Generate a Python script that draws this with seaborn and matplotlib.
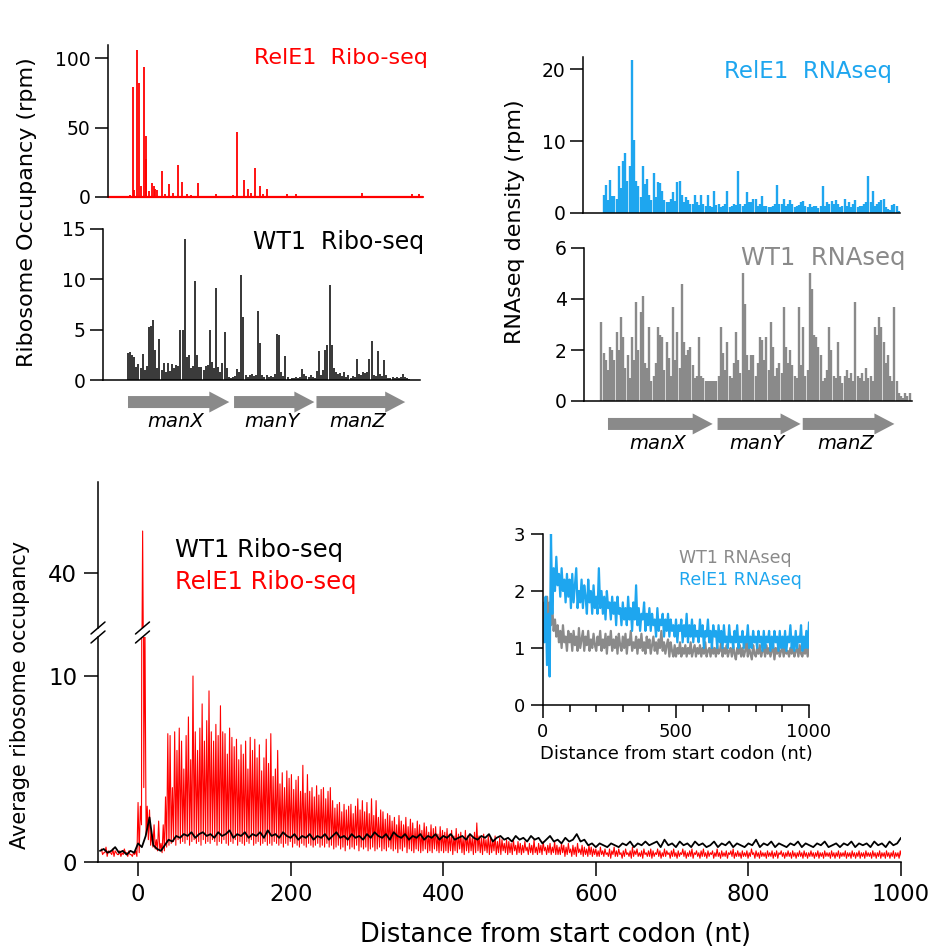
import numpy as np
import pandas as pd
import matplotlib
matplotlib.use("Agg")
import matplotlib.pyplot as plt
from matplotlib.lines import Line2D
import seaborn as sns

# ---------------- data ----------------
# top-left: RelE1 Ribo-seq, sparse spikes (position in nt along manXYZ, rpm)
relE_ribo_pos = [20, 45, 60, 89, 105, 120, 152, 168, 175, 200,
                 225, 250, 262, 280, 324, 350, 394, 430, 473, 514,
                 560, 600, 667, 720, 838, 900, 1000, 1041, 1108, 1140,
                 1170, 1213, 1254, 1290, 1324, 1400, 1517, 1600, 1700, 1900,
                 2100, 2232, 2400, 2530, 2600, 2708, 2775]
relE_ribo_rpm = [1.5, 79, 5, 106, 82, 8, 93.5, 44, 27, 4,
                 10, 8, 6, 5, 18.7, 2, 9.5, 3, 23, 11,
                 2, 1.5, 10, 1, 2, 1, 1.5, 47, 12, 6,
                 3, 21, 8, 2, 5.5, 1, 2, 2.5, 1, 1,
                 1, 3, 1, 1, 1, 2.5, 2]

# top-left: WT1 Ribo-seq, 20-nt bins starting at nt 0
wt_ribo_start, wt_ribo_step = 0, 20
wt_ribo_rpm = [2.7, 2.8, 2.5, 2.3, 1.3, 1.6, 1.2, 2.6, 1.0, 1.4,
               5.3, 5.4, 6.0, 3.0, 1.2, 4.1, 1.0, 1.7, 0.8, 1.7,
               0.9, 1.6, 1.2, 1.5, 1.4, 5.0, 5.0, 14.0, 2.3, 2.5,
               1.2, 1.4, 9.8, 2.5, 1.3, 1.3, 1.0, 1.4, 1.5, 5.0,
               1.8, 1.2, 9.1, 1.3, 0.8, 1.7, 4.8, 1.2, 0.3, 0.2,
               0.3, 0.4, 1.1, 0.8, 10.4, 6.3, 0.5, 0.3, 0.5, 0.6,
               0.4, 0.5, 6.9, 3.7, 0.5, 0.3, 0.5, 0.3, 0.4, 0.3,
               0.6, 4.6, 4.5, 0.8, 0.4, 2.4, 0.3, 0.1, 0.2, 0.2,
               0.3, 0.2, 0.3, 1.1, 0.6, 0.4, 0.3, 0.5, 0.3, 0.2,
               0.9, 2.9, 0.5, 1.0, 3.0, 3.5, 9.4, 3.5, 1.2, 0.8,
               0.6, 0.7, 0.4, 0.8, 0.3, 0.5, 0.2, 0.4, 0.3, 2.1,
               0.6, 0.5, 0.8, 0.7, 0.8, 2.1, 3.9, 0.5, 0.4, 2.9,
               0.6, 0.4, 2.0, 0.5, 0.2, 0.2, 0.3, 0.2, 0.3, 0.2,
               0.3, 0.6, 0.3, 0.2, 0.1]

# top-right: RelE1 RNAseq, 20-nt bins starting at nt -40
relE_rna_start, relE_rna_step = -40, 20
relE_rna_rpm = [2.5, 3.9, 1.8, 4.6, 2.3, 2.3, 1.9, 6.5, 3.5, 7.2,
                8.3, 4.5, 6.5, 21.3, 10.2, 4.5, 3.7, 2.2, 6.5, 4.0,
                4.7, 2.5, 1.8, 5.6, 2.2, 4.3, 4.2, 3.0, 1.8, 1.5,
                1.5, 2.0, 2.9, 1.6, 4.3, 4.5, 2.5, 1.5, 2.2, 1.8,
                1.2, 1.3, 2.5, 1.5, 1.1, 2.5, 1.2, 1.0, 2.5, 1.0,
                0.8, 3.0, 1.1, 1.2, 0.9, 1.0, 1.3, 3.0, 0.9, 1.0,
                1.3, 1.1, 5.8, 1.3, 1.0, 1.2, 2.9, 1.5, 1.5, 2.0,
                2.0, 1.0, 1.2, 2.3, 1.0, 1.0, 0.8, 0.8, 1.0, 1.2,
                3.9, 1.2, 1.2, 2.0, 1.0, 1.2, 1.8, 1.2, 0.9, 1.0,
                1.1, 1.5, 1.6, 1.0, 0.8, 1.3, 0.8, 1.0, 1.0, 0.7,
                1.0, 3.7, 1.0, 1.5, 1.3, 1.6, 1.2, 1.8, 1.3, 0.8,
                1.0, 2.0, 1.0, 1.5, 0.8, 1.2, 1.8, 0.8, 1.0, 1.0,
                1.2, 1.5, 5.2, 1.5, 3.0, 1.0, 1.2, 1.5, 1.8, 2.0,
                0.8, 0.5, 0.4, 1.1, 1.2, 1.0, 0.3]

# top-right: WT1 RNAseq, 20-nt bins starting at nt -60
wt_rna_start, wt_rna_step = -60, 20
wt_rna_rpm = [3.1, 1.9, 1.6, 1.2, 2.1, 2.0, 1.6, 2.7, 2.0, 3.3,
              2.5, 1.3, 1.8, 0.9, 2.5, 1.6, 3.9, 2.0, 3.5, 4.1,
              1.5, 1.3, 2.9, 0.8, 1.0, 1.5, 2.9, 2.6, 2.5, 1.2,
              2.3, 1.7, 1.0, 3.7, 1.6, 2.7, 1.3, 4.6, 2.3, 1.8,
              2.0, 2.1, 1.4, 0.9, 1.0, 2.5, 1.0, 0.9, 0.8, 0.8,
              0.8, 0.8, 0.8, 0.8, 1.0, 2.9, 1.9, 1.2, 2.3, 1.0,
              0.9, 1.5, 2.7, 1.6, 1.1, 5.0, 3.8, 1.8, 1.2, 1.8,
              1.8, 1.0, 1.5, 2.5, 2.4, 1.6, 2.5, 1.2, 3.1, 2.1,
              1.0, 1.3, 1.5, 1.1, 3.7, 2.1, 1.5, 2.0, 1.4, 1.0,
              0.9, 3.7, 1.4, 2.9, 1.0, 1.2, 5.0, 4.4, 2.6, 2.5,
              2.1, 1.8, 0.8, 0.9, 1.2, 2.9, 2.0, 1.0, 0.9, 2.3,
              1.0, 0.7, 1.0, 1.2, 0.9, 1.1, 0.8, 3.9, 1.0, 0.9,
              1.1, 0.8, 1.3, 0.9, 1.0, 0.8, 2.9, 2.6, 3.3, 2.9,
              2.3, 1.5, 1.8, 1.0, 0.8, 3.7, 0.8, 0.3, 0.2, 0.1,
              0.3, 0.2, 0.3]

# operon annotation (nt)
gene_names = ["manX", "manY", "manZ"]
gene_starts = [0, 1010, 1795]
gene_ends = [965, 1775, 2640]

# bottom: metagene RelE1 Ribo-seq, codon peaks (nt -48, -45, ...) and troughs (nt -46.5, ...)
relE_meta_start = -48
relE_meta_peak = [
    0.7, 0.5, 0.8, 0.6, 0.5, 0.7, 0.6, 0.4, 0.6, 0.5, 0.7, 0.5, 0.6, 0.4, 0.5, 0.6,
    3.2, 3.0, 50.5, 13.0, 3.0, 2.8, 1.5, 2.0, 1.2, 2.2, 1.0, 2.0, 3.5, 6.9,
    6.8, 4.0, 7.0, 6.0, 7.2, 6.5, 5.0, 6.8, 7.8, 5.5, 10.0, 7.0, 6.0, 7.2, 8.5, 6.5, 7.6, 9.2, 7.0, 6.5,
    7.4, 6.8, 8.4, 7.0, 6.9, 5.8, 7.2, 6.7, 6.2, 6.6, 5.5, 6.3, 5.8, 6.5, 5.0, 6.7, 6.0, 6.6, 5.6, 6.3,
    4.9, 5.6, 6.6, 5.3, 6.9, 4.6, 5.0, 6.0, 4.2, 4.8, 4.0, 4.9, 4.5, 4.7, 3.9, 4.4, 4.6, 3.8, 5.2, 3.7,
    4.7, 3.8, 4.0, 3.5, 4.1, 3.6, 3.9, 4.0, 3.4, 3.8, 4.0, 3.3, 2.9, 3.1, 3.2, 2.7, 3.1, 2.8, 3.0, 3.1,
    2.6, 3.0, 3.4, 2.8, 3.3, 2.7, 3.2, 2.6, 3.4, 2.5, 3.3, 2.4, 2.8, 2.7, 2.3, 2.6, 2.5, 2.2, 2.4, 2.0,
    2.5, 2.2, 2.0, 2.4, 1.9, 2.3, 2.1, 1.8, 2.2, 2.0, 1.7, 2.1, 1.9, 1.6, 2.0, 1.8, 1.9, 1.5, 1.9, 1.7,
    1.6, 1.8, 1.5, 1.7, 1.4, 1.8, 1.5, 1.6, 1.3, 1.7, 1.4, 1.5, 1.3, 1.6, 2.1, 1.4, 1.3, 1.5, 1.2, 1.4,
    1.3, 1.2, 1.4, 1.1, 1.3, 1.2, 1.0, 1.2, 1.1, 1.0, 1.2, 0.9, 1.1,
    1.0, 0.9, 1.1, 0.8, 1.0, 0.9, 1.2, 0.8, 1.0, 0.9, 1.1, 0.8, 0.9, 1.0, 0.8, 1.1, 0.9,
    0.8, 1.0, 0.9, 0.8, 1.0, 0.7, 0.9, 0.8, 1.0, 0.7, 0.9, 0.8, 0.7, 0.9, 0.8, 0.7,
    0.7, 0.6, 0.8, 0.6, 0.7, 0.5, 0.7, 0.6, 0.8, 0.6, 0.7, 0.5, 0.6, 0.7, 0.5, 0.6, 0.8, 0.6, 0.7, 0.5,
    0.6, 0.7, 0.5, 0.6, 0.7, 0.6, 0.5, 0.7, 0.6, 0.5, 0.7, 0.6, 0.5, 0.6, 0.7, 0.5, 0.6, 0.5, 0.7, 0.6,
    0.5, 0.6, 0.7, 0.5, 0.6, 0.5, 0.6, 0.7, 0.5, 0.6, 0.5, 0.6, 0.5, 0.7, 0.5, 0.6, 0.5, 0.6, 0.5, 0.6,
    0.7, 0.5, 0.6, 0.5, 0.6, 0.5, 0.6, 0.5, 0.7, 0.5, 0.6, 0.5, 0.6, 0.5, 0.5, 0.6, 0.5, 0.6, 0.5, 0.6,
    0.5, 0.6, 0.5, 0.5, 0.6, 0.5, 0.6, 0.5, 0.5, 0.6, 0.5, 0.6, 0.5, 0.5, 0.6, 0.5, 0.5, 0.6, 0.5, 0.5,
    0.6, 0.5, 0.5, 0.6, 0.5, 0.5, 0.6, 0.5, 0.5, 0.6, 0.5, 0.5, 0.6, 0.5, 0.5, 0.6, 0.5, 0.5, 0.6, 0.5,
    0.5, 0.6, 0.5, 0.5, 0.6, 0.5, 0.5, 0.6, 0.5, 0.5, 0.6, 0.5, 0.5, 0.6]
relE_meta_trough = [
    0.4, 0.5, 0.3, 0.5, 0.4, 0.3, 0.5, 0.4, 0.3, 0.4, 0.5, 0.3, 0.4, 0.3, 0.4, 0.3,
    0.5, 2.0, 4.0, 1.5, 1.2, 0.9, 0.8, 0.7, 0.6, 0.6, 0.5, 0.6, 0.8, 0.9,
    1.0, 1.1, 0.9, 1.2, 1.0, 1.1, 1.0, 1.2, 0.9, 1.1, 1.2, 1.0, 1.1, 0.9, 1.2, 1.0, 1.1, 1.0, 1.2, 1.1,
    0.9, 1.1, 1.0, 1.2, 1.0, 0.9, 1.1, 1.0, 1.2, 0.9, 1.1, 1.0, 0.9, 1.1, 1.0, 1.2, 0.9, 1.0, 1.1, 0.9,
    1.0, 1.1, 0.9, 1.0, 0.9, 1.1, 1.0, 0.9, 1.0, 0.8, 1.0, 0.9, 1.1, 0.8, 1.0, 0.9, 0.8, 1.0, 0.9, 0.8,
    1.0, 0.9, 0.8, 0.9, 1.0, 0.8, 0.9, 0.8, 1.0, 0.8,
    0.9, 0.7, 0.8, 0.9, 0.7, 0.8, 0.6, 0.9, 0.7, 0.8, 0.7, 0.9, 0.6, 0.8, 0.7, 0.8, 0.6, 0.7, 0.8, 0.6,
    0.7, 0.8, 0.6, 0.7, 0.6, 0.8, 0.7, 0.6, 0.7, 0.5, 0.7, 0.6, 0.8, 0.5, 0.7, 0.6, 0.5, 0.7, 0.6, 0.5,
    0.6, 0.7, 0.5, 0.6, 0.5, 0.7, 0.6, 0.5, 0.6, 0.5,
    0.6, 0.5, 0.6, 0.4, 0.6, 0.5, 0.7, 0.5, 0.4, 0.6, 0.5, 0.6, 0.4, 0.5, 0.6, 0.5, 0.4, 0.6, 0.5, 0.4,
    0.5, 0.6, 0.4, 0.5, 0.4, 0.6, 0.5, 0.4, 0.5, 0.4, 0.6, 0.4, 0.5, 0.4, 0.5, 0.6, 0.4, 0.5, 0.4, 0.5,
    0.4, 0.5, 0.4, 0.6, 0.4, 0.5, 0.4, 0.5, 0.4, 0.4,
    0.4, 0.5, 0.3, 0.4, 0.5, 0.3, 0.4, 0.3, 0.5, 0.4, 0.3, 0.4, 0.3, 0.4, 0.3, 0.4, 0.3, 0.3, 0.4, 0.3,
    0.4, 0.3, 0.2, 0.4, 0.3, 0.3, 0.4, 0.2, 0.3, 0.4, 0.3, 0.2, 0.3, 0.4, 0.3, 0.3, 0.2, 0.4, 0.3, 0.3,
    0.2, 0.3, 0.4, 0.3, 0.2, 0.3, 0.3, 0.4, 0.2, 0.3, 0.3, 0.2, 0.3, 0.4, 0.3, 0.2, 0.3, 0.3, 0.2, 0.4,
    0.3, 0.2, 0.3, 0.3, 0.2, 0.3, 0.4, 0.2, 0.3, 0.3, 0.2, 0.3, 0.3, 0.2, 0.4, 0.3, 0.2, 0.3, 0.3, 0.2,
    0.3, 0.3, 0.2, 0.3, 0.4, 0.2, 0.3, 0.2, 0.3, 0.3, 0.2, 0.3, 0.3, 0.2, 0.3, 0.2, 0.4, 0.3, 0.2, 0.3,
    0.3, 0.2, 0.3, 0.2, 0.3, 0.3, 0.2, 0.3, 0.2, 0.3, 0.3, 0.2, 0.3, 0.2, 0.3, 0.2, 0.3, 0.3, 0.2, 0.3,
    0.2, 0.3, 0.2, 0.3, 0.3, 0.2, 0.3, 0.2, 0.3, 0.2, 0.3, 0.2, 0.3, 0.2, 0.3, 0.3, 0.2, 0.3, 0.2, 0.3,
    0.2, 0.3, 0.2, 0.3, 0.2, 0.3, 0.2, 0.3, 0.2, 0.3]

# bottom: metagene WT1 Ribo-seq, every 5 nt from -50
wt_meta_start, wt_meta_step = -50, 5
wt_meta = [
    0.6, 0.7, 0.5, 0.6, 0.8, 0.5, 0.6, 0.4, 0.6, 0.5,
    1.0, 0.8, 1.4, 2.4, 0.9, 0.7, 0.6, 0.9, 1.2, 1.1,
    1.4, 1.3, 1.5, 1.4, 1.6, 1.3, 1.5, 1.6, 1.4, 1.5,
    1.3, 1.6, 1.4, 1.5, 1.7, 1.3, 1.5, 1.4, 1.6, 1.3,
    1.5, 1.4, 1.6, 1.3, 1.7, 1.4, 1.5, 1.3, 1.6, 1.4,
    1.3, 1.5, 1.2, 1.4, 1.3, 1.5, 1.2, 1.4, 1.3, 1.5,
    1.2, 1.4, 1.6, 1.3, 1.4, 1.2, 1.5, 1.3, 1.4, 1.2,
    1.5, 1.3, 1.6, 1.4, 1.3, 1.5, 1.2, 1.6, 1.4, 1.3,
    1.5, 1.2, 1.4, 1.3, 1.5, 1.2, 1.4, 1.3, 1.5, 1.2,
    1.4, 1.3, 1.5, 1.2, 1.3, 1.4, 1.2, 1.5, 1.3, 1.2,
    1.4, 1.3, 1.5, 1.1, 1.3, 1.4, 1.2, 1.3, 1.1, 1.4,
    1.2, 1.3, 1.1, 1.4, 1.2, 1.3, 1.0, 1.2, 1.4, 1.1,
    1.2, 1.0, 1.3, 1.1, 1.2, 1.5, 1.1, 1.2, 0.9, 1.0,
    0.8, 1.0, 0.9, 0.8, 1.0, 0.9, 0.8, 1.0, 0.9, 1.1,
    0.8, 1.0, 0.9, 1.1, 0.9, 1.0, 1.1, 0.8, 1.2, 0.9,
    1.0, 0.8, 1.1, 0.9, 1.0, 0.8, 1.1, 0.9, 1.0, 0.8,
    0.9, 1.1, 0.8, 1.0, 0.9, 1.1, 0.8, 1.0, 0.9, 0.8,
    1.0, 0.9, 1.2, 0.8, 1.0, 0.9, 1.1, 0.8, 1.0, 0.9,
    0.8, 1.0, 0.9, 1.1, 0.8, 1.0, 0.9, 0.8, 1.0, 0.9,
    1.1, 0.8, 0.9, 1.0, 0.8, 1.0, 0.9, 1.1, 0.8, 1.0,
    0.9, 1.0, 0.8, 1.1, 0.9, 1.0, 0.8, 1.1, 0.9, 1.0,
    1.3]

# inset: metagene RNAseq, every 5 nt from 0
rna_meta_step = 5
wt_rna_meta = [
    1.5, 1.8, 1.2, 1.9, 1.6, 1.8, 1.4, 1.7, 1.3, 1.5,
    1.2, 1.4, 1.1, 1.3, 1.0, 1.4, 1.1, 1.2, 0.95, 1.3,
    1.1, 1.25, 0.95, 1.3, 1.05, 1.2, 0.95, 1.35, 1.0, 1.15,
    1.3, 0.95, 1.2, 1.05, 1.3, 0.95, 1.15, 1.0, 1.25, 1.05,
    0.95, 1.2, 1.05, 1.3, 0.95, 1.15, 1.0, 1.25, 0.9, 1.2,
    1.05, 1.3, 0.95, 1.15, 1.0, 1.2, 0.9, 1.25, 1.05, 0.95,
    1.2, 1.0, 1.25, 0.9, 1.15, 1.05, 1.3, 0.95, 1.1, 1.0,
    1.2, 0.9, 1.15, 1.0, 1.25, 0.95, 1.1, 0.9, 1.2, 1.0,
    1.15, 0.9, 1.05, 1.2, 0.95, 1.1, 0.9, 1.15, 1.0, 1.3,
    0.95, 1.1, 0.9, 1.05, 1.15, 0.85, 1.1, 0.95, 0.85, 1.05,
    0.85, 1.0, 0.9, 1.1, 0.85, 1.0, 0.9, 1.05, 0.85, 1.0,
    0.9, 1.1, 0.85, 0.95, 1.05, 0.85, 1.0, 0.9, 1.05, 0.85,
    1.0, 0.9, 1.1, 0.85, 0.95, 1.0, 0.85, 1.05, 0.9, 1.0,
    0.85, 1.05, 0.9, 0.95, 1.1, 0.85, 1.0, 0.9, 1.05, 0.85,
    0.95, 1.0, 0.85, 1.05, 0.9, 0.8, 1.0, 0.9, 1.05, 0.85,
    1.0, 0.85, 0.95, 1.1, 0.85, 1.0, 0.9, 0.8, 1.05, 0.9,
    0.85, 1.0, 0.9, 1.05, 0.85, 0.95, 1.0, 0.85, 1.05, 0.9,
    1.0, 0.85, 0.95, 1.05, 0.8, 1.0, 0.9, 1.05, 0.85, 0.95,
    1.0, 0.85, 1.05, 0.9, 0.95, 0.85, 1.0, 0.9, 1.05, 0.85,
    0.95, 1.0, 0.85, 1.05, 0.9, 0.85, 1.0, 0.9, 1.05, 0.85,
    1.0]
relE_rna_meta = [
    1.5, 1.1, 1.9, 0.7, 1.6, 0.5, 3.0, 1.6, 2.4, 2.0,
    2.6, 2.1, 2.3, 1.9, 2.4, 2.0, 2.2, 1.8, 2.3, 1.9,
    2.2, 1.7, 2.3, 1.8, 2.1, 2.4, 1.7, 2.0, 1.8, 2.2,
    1.7, 2.1, 1.9, 1.6, 2.2, 1.8, 2.0, 1.6, 2.1, 1.7,
    1.9, 1.6, 2.4, 1.7, 2.0, 1.6, 1.9, 1.5, 2.0, 1.7,
    1.8, 1.5, 1.9, 1.6, 1.8, 1.4, 1.9, 1.6, 1.7, 1.4,
    1.8, 1.5, 1.7, 1.4, 1.9, 1.5, 1.7, 1.3, 1.8, 1.5,
    2.1, 1.4, 1.7, 1.3, 1.6, 1.5, 1.8, 1.3, 1.6, 1.4,
    1.7, 1.3, 1.6, 1.4, 1.5, 1.2, 1.7, 1.3, 1.5, 1.4,
    1.6, 1.2, 1.5, 1.3, 1.6, 1.2, 1.5, 1.3, 1.4, 1.2,
    1.5, 1.1, 1.4, 1.3, 1.5, 1.1, 1.4, 1.2, 1.6, 1.1,
    1.4, 1.2, 1.5, 1.1, 1.4, 1.2, 1.3, 1.1, 1.5, 1.2,
    1.4, 1.0, 1.3, 1.2, 1.5, 1.1, 1.3, 1.0, 1.4, 1.2,
    1.3, 1.0, 1.4, 1.1, 1.3, 1.0, 1.4, 1.1, 1.2, 1.0,
    1.4, 1.1, 1.2, 1.0, 1.3, 1.1, 1.4, 1.0, 1.2, 1.1,
    1.3, 1.0, 1.2, 1.1, 1.4, 1.0, 1.2, 1.0, 1.3, 1.1,
    1.2, 1.0, 1.3, 1.1, 1.2, 0.95, 1.3, 1.0, 1.2, 1.1,
    1.3, 0.95, 1.2, 1.0, 1.3, 1.1, 1.2, 0.95, 1.3, 1.0,
    1.2, 1.0, 1.3, 0.95, 1.2, 1.1, 1.4, 1.0, 1.2, 0.95,
    1.3, 1.0, 1.2, 1.1, 1.4, 0.95, 1.2, 1.0, 1.3, 1.0,
    1.45]

# ---------------- styling ----------------
RED = "#ff0000"
BLUE = "#1ea6ef"
GRAY = "#8a8a8a"
W, H = 933, 949

sns.set_style("ticks")
plt.rcParams["font.family"] = ["DejaVu Sans"]
plt.rcParams["axes.linewidth"] = 1.1
plt.rcParams["axes.edgecolor"] = "black"
plt.rcParams["axes.labelcolor"] = "black"
plt.rcParams["text.color"] = "black"
plt.rcParams["xtick.color"] = "black"
plt.rcParams["ytick.color"] = "black"
plt.rcParams["xtick.labelcolor"] = "black"
plt.rcParams["ytick.labelcolor"] = "black"

fig = plt.figure(figsize=(W / 100, H / 100), dpi=100)


def box(left, top, right, bottom):
    """Axes rectangle from pixel edges of the reference."""
    return [left / W, 1 - bottom / H, (right - left) / W, (bottom - top) / H]


def fig_xy(px, py):
    return px / W, 1 - py / H


def style_track(ax, yticks, ymax, xlim):
    sns.despine(ax=ax)
    ax.set_xlim(*xlim)
    ax.set_ylim(0, ymax)
    ax.set_yticks(yticks)
    ax.tick_params(axis="y", direction="out", length=9.5, width=1.1, labelsize=13.5, pad=3)
    ax.tick_params(axis="x", bottom=False, labelbottom=False)
    ax.set_facecolor("none")


def draw_genes(ax, y_arrow, y_label):
    trans = ax.get_xaxis_transform()
    for name, start, end in zip(gene_names, gene_starts, gene_ends):
        ax.annotate("", xy=(end, y_arrow), xytext=(start, y_arrow),
                    xycoords=trans, textcoords=trans, annotation_clip=False,
                    arrowprops=dict(arrowstyle="simple,head_length=1.0,head_width=1.05,tail_width=0.6",
                                    mutation_scale=14.4, color=GRAY, lw=0, shrinkA=0, shrinkB=0))
        ax.text(start + 0.47 * (end - start), y_label, name, transform=trans,
                ha="center", va="center", fontsize=14, fontstyle="italic")


# ---- top-left tracks ----
ax1 = fig.add_axes(box(108, 45, 423, 197))
ax1.vlines(relE_ribo_pos, 0, relE_ribo_rpm, color=RED, lw=1.3)
ax1.axhline(0, color=RED, lw=1.6, clip_on=False)
style_track(ax1, [0, 50, 100], 109.4, (-190, 2810))
ax1.spines["bottom"].set_visible(False)
ax1.text(1.016, 0.914, "RelE1  Ribo-seq", transform=ax1.transAxes, ha="right", va="center",
         color=RED, fontsize=16)

ax2 = fig.add_axes(box(103, 229, 420, 380))
pos2 = wt_ribo_start + wt_ribo_step * np.arange(len(wt_ribo_rpm))
ax2.vlines(pos2, 0, wt_ribo_rpm, color="black", lw=1.1)
style_track(ax2, [0, 5, 10, 15], 15, (-238, 2781))
ax2.text(1.013, 0.914, "WT1  Ribo-seq", transform=ax2.transAxes, ha="right", va="center",
         color="black", fontsize=17)
draw_genes(ax2, -0.146, -0.278)

x, y = fig_xy(27, 212)
fig.text(x, y, "Ribosome Occupancy (rpm)", rotation=90, ha="center", va="center", fontsize=16)

# ---- top-right tracks ----
ax3 = fig.add_axes(box(583, 57, 900, 213))
pos3 = relE_rna_start + relE_rna_step * np.arange(len(relE_rna_rpm))
ax3.vlines(pos3, 0, relE_rna_rpm, color=BLUE, lw=1.7)
style_track(ax3, [0, 10, 20], 21.7, (-230, 2691))
ax3.text(0.975, 0.904, "RelE1  RNAseq", transform=ax3.transAxes, ha="right", va="center",
         color=BLUE, fontsize=16.5)

ax4 = fig.add_axes(box(584, 248, 912, 401))
pos4 = wt_rna_start + wt_rna_step * np.arange(len(wt_rna_rpm))
ax4.vlines(pos4, 0, wt_rna_rpm, color=GRAY, lw=1.7)
style_track(ax4, [0, 2, 4, 6], 6, (-221, 2802))
ax4.text(0.979, 0.935, "WT1  RNAseq", transform=ax4.transAxes, ha="right", va="center",
         color=GRAY, fontsize=17.5)
draw_genes(ax4, -0.150, -0.281)

x, y = fig_xy(515, 222)
fig.text(x, y, "RNAseq density (rpm)", rotation=90, ha="center", va="center", fontsize=16)

# ---- bottom metagene (broken y axis) ----
peak_pos = relE_meta_start + 3.0 * np.arange(len(relE_meta_peak))
trough_pos = relE_meta_start + 1.5 + 3.0 * np.arange(len(relE_meta_trough))
relE_df = pd.concat([
    pd.DataFrame({"nt": peak_pos, "occ": relE_meta_peak}),
    pd.DataFrame({"nt": trough_pos, "occ": relE_meta_trough}),
]).sort_values("nt")
wt_df = pd.DataFrame({"nt": wt_meta_start + wt_meta_step * np.arange(len(wt_meta)),
                      "occ": wt_meta})

px_per_unit = 18.6
lo_top, hi_bottom = 637, 628
ax_lo = fig.add_axes(box(98, lo_top, 901, 862))
ax_hi = fig.add_axes(box(98, 482, 901, hi_bottom))

for ax in (ax_lo, ax_hi):
    sns.lineplot(data=relE_df, x="nt", y="occ", color=RED, lw=0.8, estimator=None, sort=False, ax=ax)
    sns.lineplot(data=wt_df, x="nt", y="occ", color="black", lw=1.3, estimator=None, sort=False, ax=ax)
    ax.set_xlim(-52.5, 1000)
    ax.set_xlabel("")
    ax.set_ylabel("")
    ax.set_facecolor("none")

ax_lo.set_ylim(0, (862 - lo_top) / px_per_unit)
ax_lo.set_yticks([0, 10])
ax_lo.set_xticks([0, 200, 400, 600, 800, 1000])
sns.despine(ax=ax_lo)
ax_lo.tick_params(direction="out", length=10, width=1.1, labelsize=16.5, pad=5)
ax_lo.set_xlabel("Distance from start codon (nt)", fontsize=18.5)
ax_lo.xaxis.set_label_coords((555 - 98) / 803, -0.265)

hi_scale = 4.0
ax_hi.set_ylim(40 - (hi_bottom - 573) / hi_scale, 40 + (573 - 482) / hi_scale)
ax_hi.set_yticks([40])
sns.despine(ax=ax_hi, bottom=True)
ax_hi.tick_params(axis="y", direction="out", length=10, width=1.1, labelsize=16.5, pad=5)
ax_hi.tick_params(axis="x", bottom=False, labelbottom=False)

# break marks on the axis and on the start-codon peak
for bx in (98, 142.5):
    for by in (hi_bottom, lo_top):
        x0, y0 = fig_xy(bx - 7, by + 6)
        x1, y1 = fig_xy(bx + 7, by - 6)
        fig.add_artist(Line2D([x0, x1], [y0, y1], color="black", lw=1.1))

x, y = fig_xy(20, 695)
fig.text(x, y, "Average ribosome occupancy", rotation=90, ha="center", va="center", fontsize=15)
x, y = fig_xy(175, 550)
fig.text(x, y, "WT1 Ribo-seq", ha="left", va="center", fontsize=17.5, color="black")
x, y = fig_xy(175, 582)
fig.text(x, y, "RelE1 Ribo-seq", ha="left", va="center", fontsize=17.5, color=RED)

# ---- inset: RNAseq metagene ----
axi = fig.add_axes(box(543, 534, 809, 705))
rna_pos_wt = rna_meta_step * np.arange(len(wt_rna_meta))
rna_pos_relE = rna_meta_step * np.arange(len(relE_rna_meta))
sns.lineplot(x=rna_pos_wt, y=wt_rna_meta, color=GRAY, lw=1.6, estimator=None, ax=axi)
sns.lineplot(x=rna_pos_relE, y=relE_rna_meta, color=BLUE, lw=1.6, estimator=None, ax=axi)
axi.set_xlim(0, 1000)
axi.set_ylim(0, 3)
axi.set_yticks([0, 1, 2, 3])
axi.set_xticks([0, 500, 1000])
axi.set_xticks(np.arange(100, 1000, 100), minor=True)
sns.despine(ax=axi)
axi.tick_params(which="major", direction="out", length=9, width=1.1, labelsize=13, pad=4)
axi.tick_params(which="minor", axis="x", direction="out", length=5, width=1.1)
axi.set_xlabel("Distance from start codon (nt)", fontsize=13, labelpad=3)
axi.set_ylabel("")
axi.set_facecolor("none")
axi.text(0.511, 0.86, "WT1 RNAseq", transform=axi.transAxes, ha="left", va="center",
         color=GRAY, fontsize=12.5)
axi.text(0.511, 0.731, "RelE1 RNAseq", transform=axi.transAxes, ha="left", va="center",
         color=BLUE, fontsize=12.5)

fig.savefig("out.png", dpi=100, facecolor="white")
